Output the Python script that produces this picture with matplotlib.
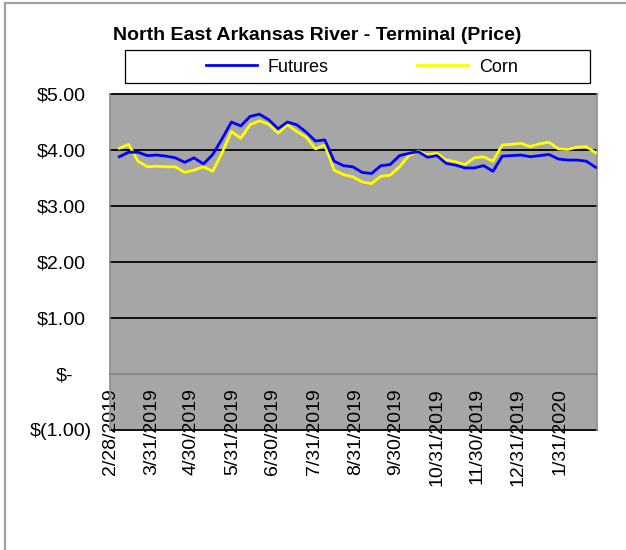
import matplotlib
matplotlib.use("Agg")
import matplotlib.pyplot as plt
import matplotlib.dates as mdates
import matplotlib.transforms as mtransforms
from matplotlib.lines import Line2D
from matplotlib.patches import Rectangle
import pandas as pd

plt.rcParams["font.family"] = ["Liberation Sans", "DejaVu Sans"]

# ----------------------------------------------------------------------
# Data (weekly readings, $/bu)
# ----------------------------------------------------------------------
dates = pd.date_range("2019-03-07", periods=52, freq="7D")

futures = [3.88, 3.96, 3.96, 3.90, 3.91, 3.89, 3.86, 3.78, 3.86, 3.75,
           3.92, 4.20, 4.50, 4.43, 4.60, 4.64, 4.54, 4.38, 4.50, 4.45,
           4.32, 4.16, 4.18, 3.80, 3.72, 3.70, 3.60, 3.58, 3.72, 3.74,
           3.90, 3.94, 3.97, 3.87, 3.90, 3.76, 3.73, 3.68, 3.68, 3.72,
           3.62, 3.89, 3.90, 3.91, 3.88, 3.90, 3.92, 3.84, 3.82, 3.82,
           3.80, 3.69]

corn = [4.03, 4.10, 3.80, 3.70, 3.71, 3.70, 3.70, 3.60, 3.64, 3.70,
        3.62, 3.95, 4.33, 4.21, 4.45, 4.52, 4.46, 4.30, 4.45, 4.33,
        4.23, 4.02, 4.09, 3.64, 3.56, 3.52, 3.43, 3.40, 3.53, 3.55,
        3.70, 3.90, 3.98, 3.91, 3.94, 3.82, 3.79, 3.74, 3.86, 3.88,
        3.80, 4.09, 4.10, 4.12, 4.06, 4.11, 4.14, 4.02, 4.01, 4.05,
        4.06, 3.95]

tick_dates = ["2019-02-28", "2019-03-31", "2019-04-30", "2019-05-31",
              "2019-06-30", "2019-07-31", "2019-08-31", "2019-09-30",
              "2019-10-31", "2019-11-30", "2019-12-31", "2020-01-31"]
tick_labels = ["2/28/2019", "3/31/2019", "4/30/2019", "5/31/2019",
               "6/30/2019", "7/31/2019", "8/31/2019", "9/30/2019",
               "10/31/2019", "11/30/2019", "12/31/2019", "1/31/2020"]

y_ticks = [-1, 0, 1, 2, 3, 4, 5]
y_labels = ["$(1.00)", "$-", "$1.00", "$2.00", "$3.00", "$4.00", "$5.00"]
y_shift_px = [0, 19, 6, 6, 6, 6, 6]   # accounting-format alignment

title = "North East Arkansas River - Terminal (Price)"

# ----------------------------------------------------------------------
# Figure
# ----------------------------------------------------------------------
W, H = 626, 550
fig = plt.figure(figsize=(W / 100, H / 100), dpi=100)
fig.patch.set_facecolor("white")

# chart-area border (only left and top visible)
fig.add_artist(Line2D([5 / W, 5 / W], [-0.1, 1 - 3 / H], color="#a0a0a0", lw=1.6,
                      transform=fig.transFigure))
fig.add_artist(Line2D([5 / W, 1.1], [1 - 3 / H, 1 - 3 / H], color="#a0a0a0", lw=1.6,
                      transform=fig.transFigure))

ax = fig.add_axes([110 / W, 1 - 430 / H, (597 - 110) / W, (430 - 94) / H])
ax.set_facecolor("#a6a6a6")

x = mdates.date2num(dates)
ax.plot(x, futures, color="#0000ff", lw=2.0, solid_joinstyle="round", zorder=4, label="Futures")
ax.plot(x, corn, color="#ffff00", lw=2.0, solid_joinstyle="round", zorder=3, label="Corn")

ax.set_xlim(mdates.date2num(pd.Timestamp("2019-02-28")),
            mdates.date2num(pd.Timestamp("2020-02-28")))
ax.set_ylim(-1, 5)

# gridlines
for v in [-1, 1, 2, 3, 4, 5]:
    ax.axhline(v, color="black", lw=1.3, zorder=2, clip_on=False)

for s in ["left", "right"]:
    ax.spines[s].set_color("#8c8c8c")
    ax.spines[s].set_linewidth(1.2)
ax.spines["top"].set_visible(False)
ax.spines["bottom"].set_position(("data", 0))
ax.spines["bottom"].set_color("#888888")
ax.spines["bottom"].set_linewidth(1.5)
ax.spines["bottom"].set_zorder(2.5)

ax.set_yticks(y_ticks)
ax.set_yticklabels(y_labels, fontsize=14)
ax.tick_params(axis="y", length=0, pad=13)
for lab, dx in zip(ax.get_yticklabels(), y_shift_px):
    lab.set_transform(lab.get_transform() +
                      mtransforms.ScaledTranslation(-dx / 100, 0, fig.dpi_scale_trans))

ax.set_xticks(mdates.date2num(pd.to_datetime(tick_dates)))
ax.set_xticklabels(tick_labels, rotation=90, fontsize=14)
ax.tick_params(axis="x", length=0, pad=10)

# title
fig.text(317 / W, 1 - 35 / H, title, ha="center", va="center",
         fontsize=14, fontweight="bold")

# legend box
fig.add_artist(Rectangle((125 / W, 1 - 83 / H), (590 - 125) / W, (83 - 50) / H,
                         transform=fig.transFigure, facecolor="white",
                         edgecolor="black", lw=0.9))
leg = fig.legend(loc="center", bbox_to_anchor=(362 / W, 1 - 67 / H), ncol=2,
                 frameon=False, fontsize=13, handlelength=2.8, handletextpad=0.6,
                 columnspacing=4.9, borderpad=0)
for h in leg.get_lines():
    h.set_linewidth(2)

fig.savefig("out.png", dpi=100)
